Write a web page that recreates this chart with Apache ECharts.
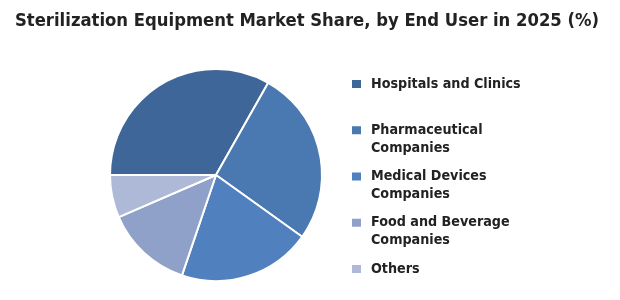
<!DOCTYPE html>
<html>
<head>
<meta charset="utf-8">
<script src="https://cdn.jsdelivr.net/npm/echarts@6/dist/echarts.min.js"></script>
<style>
  html, body { margin: 0; padding: 0; background: #fff; }
  #chart { width: 620px; height: 300px; }
</style>
</head>
<body>
<div id="chart"></div>
<script>
// end user segments, clockwise from 9 o'clock
const segments = ["Hospitals and Clinics", "Pharmaceutical Companies", "Medical Devices Companies", "Food and Beverage Companies", "Others"];
const legendLabels = ["Hospitals and Clinics", "Pharmaceutical\nCompanies", "Medical Devices\nCompanies", "Food and Beverage\nCompanies", "Others"];
const shares = [33.2, 26.7, 20.3, 13.3, 6.5];
const colors = ["#3f6699", "#4a78b0", "#5080be", "#8fa1c9", "#adb9d6"];

const font = "'DejaVu Sans Condensed', 'DejaVu Sans', sans-serif";
const chart = echarts.init(document.getElementById("chart"));

// one legend per item so the two-line labels sit like the original
const legends = segments.map((name, i) => {
  const twoLines = legendLabels[i].indexOf("\n") >= 0;
  const iconCenter = 84 + 46.25 * i;
  return {
    data: [name],
    orient: "vertical",
    left: 350,
    top: twoLines ? iconCenter - 27 : iconCenter - 9,
    padding: 0,
    itemWidth: 11,
    itemHeight: 10,
    icon: "rect",
    selectedMode: false,
    // leading blank line keeps the first line level with the square
    formatter: () => (twoLines ? "\n" + legendLabels[i] : legendLabels[i]),
    textStyle: {
      fontFamily: font,
      fontWeight: "bold",
      fontSize: 14.2,
      lineHeight: 18,
      color: "#222",
      padding: [0, 0, 0, 4],
    },
  };
});

chart.setOption({
  animation: false,
  title: {
    text: "Sterilization Equipment Market Share, by End User in 2025 (%)",
    left: 15,
    top: 12,
    padding: 0,
    textStyle: {
      fontFamily: font,
      fontWeight: "bold",
      fontSize: 18.3,
      color: "#222",
    },
  },
  legend: legends,
  series: [
    {
      type: "pie",
      center: [216, 175],
      radius: 106,
      startAngle: 180,
      clockwise: true,
      label: { show: false },
      labelLine: { show: false },
      itemStyle: { borderColor: "#fff", borderWidth: 2 },
      data: segments.map((name, i) => ({
        name: name,
        value: shares[i],
        itemStyle: { color: colors[i] },
      })),
    },
  ],
});
</script>
</body>
</html>
